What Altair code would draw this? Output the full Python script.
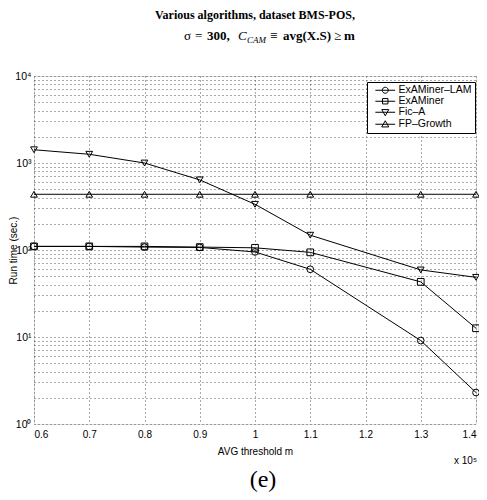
import altair as alt
import pandas as pd

# ---------------- data ----------------
x_vals = [0.6, 0.7, 0.8, 0.9, 1.0, 1.1, 1.3, 1.4]
series_names = ["ExAMiner–LAM", "ExAMiner", "Fic–A", "FP–Growth"]
lam = [110, 110, 108, 107, 95, 60, 9.1, 2.3]
examiner = [110, 110, 110, 108, 106, 94, 43, 12.6]
fica = [1420, 1260, 1000, 640, 335, 148, 59, 48.5]
fpg = [437, 437, 437, 437, 437, 437, 437, 437]

x_ticks = [0.6, 0.7, 0.8, 0.9, 1.0, 1.1, 1.2, 1.3, 1.4]
y_grid = [1, 2, 3, 4, 5, 6, 7, 8, 9,
          10, 20, 30, 40, 50, 60, 70, 80, 90,
          100, 200, 300, 400, 500, 600, 700, 800, 900,
          1000, 2000, 3000, 4000, 5000, 6000, 7000, 8000, 9000,
          10000]

rows = []
for name, vals in zip(series_names, [lam, examiner, fica, fpg]):
    for xv, yv in zip(x_vals, vals):
        rows.append({"m": xv, "t": yv, "series": name})
df = pd.DataFrame(rows)

# dummy rows for the legend (clipped away, outside y domain)
legend_df = pd.DataFrame({"m": [0.6] * 4, "t": [1e6] * 4, "series": series_names})

SANS = "Liberation Sans"
SERIF = "Liberation Serif"

W, H = 442, 348

xscale = alt.Scale(domain=[0.6, 1.4], nice=False, zero=False)
yscale = alt.Scale(type="log", domain=[1, 10000], nice=False)

xaxis = alt.Axis(values=x_ticks, labelExpr="format(datum.value, '~g')",
                 title="AVG threshold m", grid=True, gridDash=[1, 3],
                 gridColor="#555", gridOpacity=1, domain=False, ticks=False,
                 labelFont=SANS, labelFontSize=10, labelColor="black",
                 labelPadding=5, titleFont=SANS, titleFontSize=10,
                 titleFontWeight="normal", titleColor="black",
                 titleBaseline="middle", titleY=27)
yaxis = alt.Axis(values=y_grid,
                 labelExpr="datum.value==1?'10⁰':datum.value==10?'10¹':datum.value==100?'10²':datum.value==1000?'10³':datum.value==10000?'10⁴':''",
                 title="Run time (sec.)", grid=True, gridDash=[1, 3],
                 gridColor="#555", gridOpacity=1, domain=False, ticks=False,
                 labelFont=SANS, labelFontSize=10.5, labelColor="black",
                 labelPadding=3, titleFont=SANS, titleFontSize=10,
                 titleFontWeight="normal", titleColor="black",
                 titleAngle=-90, titleX=-21, titleY=H / 2,
                 titleAlign="center", titleBaseline="middle")

base = alt.Chart(df)

lines = base.mark_line(color="black", strokeWidth=1).encode(
    x=alt.X("m:Q", scale=xscale, axis=xaxis),
    y=alt.Y("t:Q", scale=yscale, axis=yaxis),
    detail="series:N",
)

points = base.mark_point(filled=False, color="black", size=45, strokeWidth=1, opacity=1).encode(
    x=alt.X("m:Q", scale=xscale),
    y=alt.Y("t:Q", scale=yscale),
    shape=alt.Shape("series:N",
                    scale=alt.Scale(domain=series_names,
                                    range=["circle", "square", "triangle-down", "triangle-up"]),
                    legend=None),
)

# symbol paths scaled by sqrt(symbolSize)/2 = 4.5 px per unit
legend_paths = [
    "M-2.2,0H2.2M-0.67,0A0.67,0.67 0 1,1 0.67,0A0.67,0.67 0 1,1 -0.67,0Z",
    "M-2.2,0H2.2M-0.6,-0.6H0.6V0.6H-0.6Z",
    "M-2.2,0H2.2M-0.78,-0.6H0.78L0,0.78Z",
    "M-2.2,0H2.2M-0.78,0.6H0.78L0,-0.78Z",
]

legend_layer = alt.Chart(legend_df).mark_point(filled=False, color="black", clip=True, opacity=1).encode(
    x=alt.X("m:Q", scale=xscale),
    y=alt.Y("t:Q", scale=yscale),
    shape=alt.Shape("series:N",
                    scale=alt.Scale(domain=series_names, range=legend_paths),
                    legend=alt.Legend(title=None, orient="none", legendX=333, legendY=6,
                                      strokeColor="black", fillColor="white",
                                      padding=3, symbolSize=81, symbolStrokeWidth=1,
                                      symbolFillColor="transparent",
                                      symbolStrokeColor="black", symbolOffset=10,
                                      labelOffset=8, labelFont=SANS, labelFontSize=10.5,
                                      labelColor="black", rowPadding=0)),
)

one = pd.DataFrame({"a": [0]})


def txt(text, x, y, font=SERIF, size=13, weight="normal", style="normal", align="left", baseline="alphabetic"):
    return alt.Chart(one).mark_text(text=text, font=font, fontSize=size, fontWeight=weight,
                                    fontStyle=style, align=align, baseline=baseline,
                                    color="black").encode(x=alt.value(x), y=alt.value(y))

OX, OY = 34, 76  # plot origin on page
L2 = 40
annotations = [
    txt("Various algorithms, dataset BMS-POS,", 255 - OX, 19 - OY, size=12, weight="bold", align="center"),
    txt("σ", 184 - OX, L2 - OY),
    txt("=", 195 - OX, L2 - OY),
    txt("300,", 207 - OX, L2 - OY, weight="bold"),
    txt("C", 238 - OX, L2 - OY, style="italic"),
    txt("CAM", 247 - OX, L2 + 3 - OY, style="italic", size=9),
    txt("≡", 270 - OX, L2 - OY),
    txt("avg(X.S)", 283 - OX, L2 - OY, weight="bold"),
    txt("≥", 334 - OX, L2 - OY),
    txt("m", 344 - OX, L2 - OY, weight="bold"),
    txt("x 10⁵", 454 - OX, 461 - OY, font=SANS, size=10, baseline="middle"),
    txt("(e)", 263 - OX, 487 - OY, size=24, align="center"),
]

chart = alt.layer(lines, points, legend_layer, *annotations).resolve_scale(
    shape="independent"
).properties(
    width=W, height=H,
    autosize=alt.AutoSizeParams(type="none"),
    padding={"left": 26, "top": 68, "right": 3, "bottom": 68},
).configure_view(stroke="black", strokeWidth=1.6).configure(background="white")

chart.save("out.html", embed_options={"renderer": "svg", "actions": False})
